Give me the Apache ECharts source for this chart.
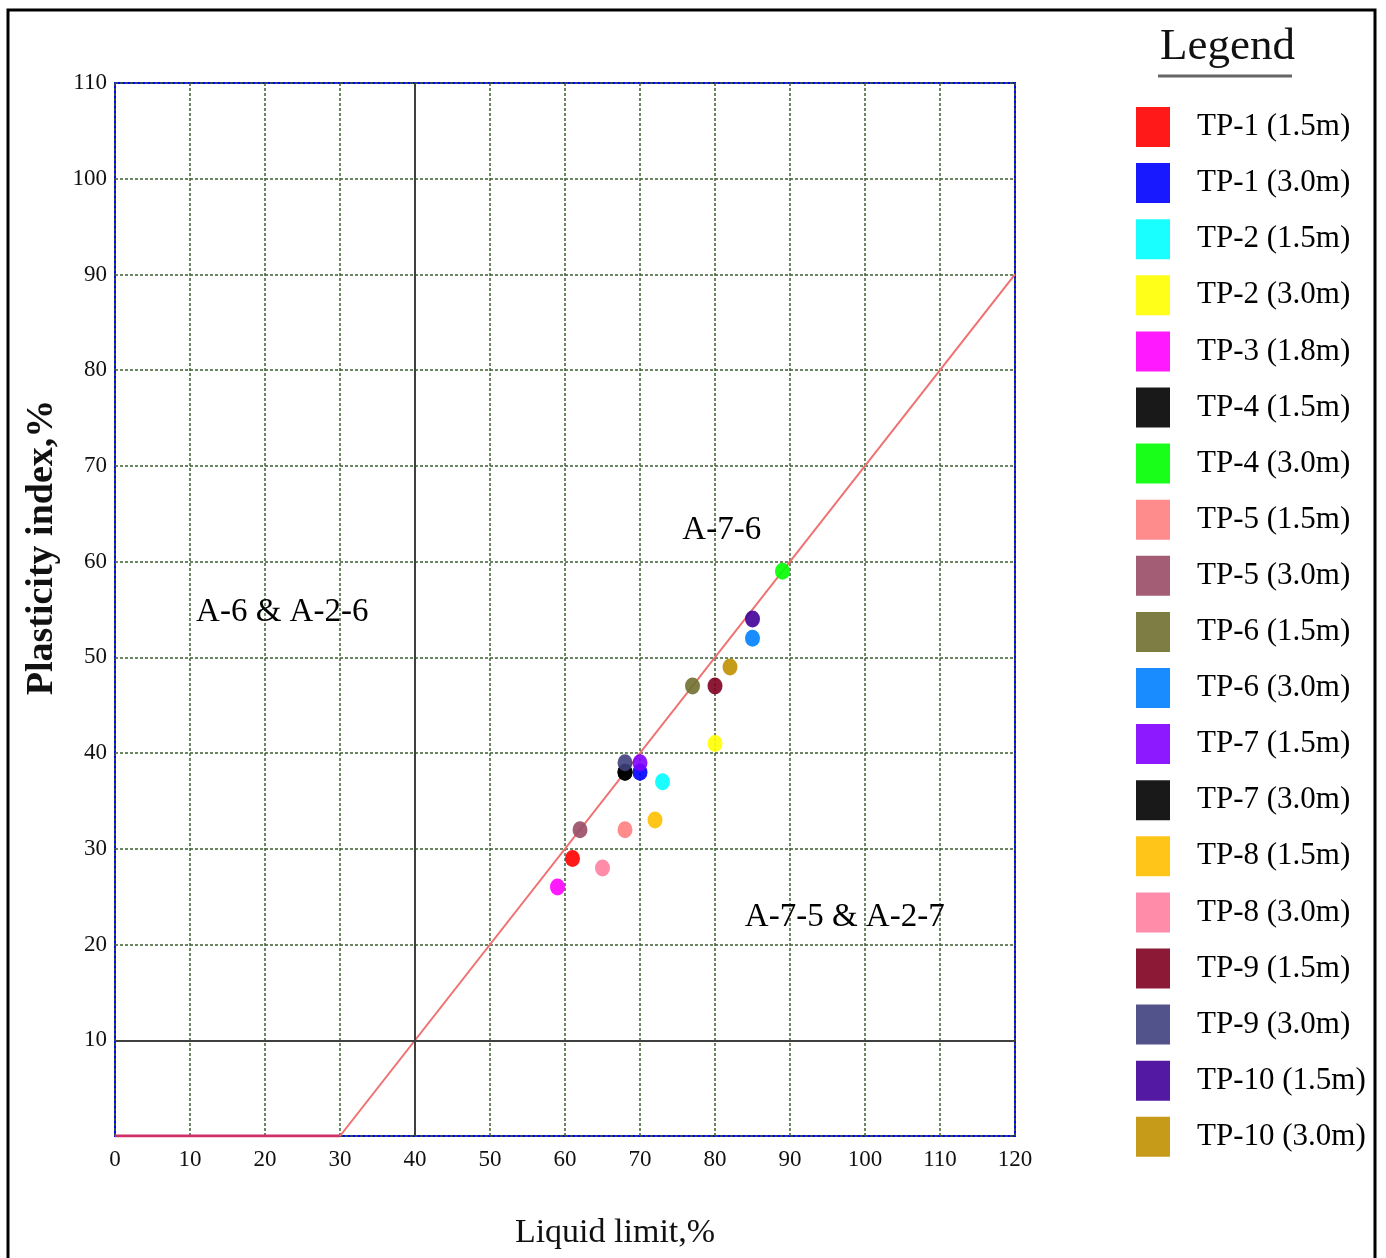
<!DOCTYPE html>
<html>
<head>
<meta charset="utf-8">
<script src="https://cdn.jsdelivr.net/npm/echarts@6/dist/echarts.min.js"></script>
<style>
html,body{margin:0;padding:0;background:#fff;}
#chart{width:1386px;height:1258px;}
</style>
</head>
<body>
<div id="chart"></div>
<script>
// ---- data ----
const sampleNames = ['TP-1 (1.5m)','TP-1 (3.0m)','TP-2 (1.5m)','TP-2 (3.0m)','TP-3 (1.8m)','TP-4 (1.5m)','TP-4 (3.0m)','TP-5 (1.5m)','TP-5 (3.0m)','TP-6 (1.5m)','TP-6 (3.0m)','TP-7 (1.5m)','TP-7 (3.0m)','TP-8 (1.5m)','TP-8 (3.0m)','TP-9 (1.5m)','TP-9 (3.0m)','TP-10 (1.5m)','TP-10 (3.0m)'];
const liquidLimit    = [61, 70, 73, 80, 59, 68, 89, 68, 62, 77, 85, 70, 68, 72, 65, 80, 68, 85, 82];
const plasticityIdx  = [29, 38, 37, 41, 26, 38, 59, 32, 32, 47, 52, 39, 38, 33, 28, 47, 39, 54, 49];
const sampleColors   = ['#ff0000','#0000ff','#00ffff','#ffff00','#ff00ff','#000000','#00ff00','#ff8080','#994d66','#707030','#0080ff','#8000ff','#000000','#ffbf00','#ff80a0','#800020','#404080','#400099','#bf9000'];
const xTicks = [0,10,20,30,40,50,60,70,80,90,100,110,120];
const yTicks = [0,10,20,30,40,50,60,70,80,90,100,110];
// A-line boundaries (PI = LL - 30) and group boundaries
const aLineFlat  = [[0,0],[30,0]];
const aLine      = [[30,0],[120,90]];
const boundaryLL = 40;
const boundaryPI = 10;
// zone labels (text, LL, PI)
const zoneNames = ['A-6 & A-2-6','A-7-6','A-7-5 & A-2-7'];
const zoneLL = [22.3, 80.9, 97.3];
const zonePI = [54.7, 63.3, 22.8];

const serif = '"Liberation Serif", "DejaVu Serif", serif';
const series = [];
series.push({
  type:'line', data:aLineFlat, symbol:'none', silent:true, z:3,
  lineStyle:{color:'#d0306a', width:3}
});
series.push({
  type:'line', data:aLine, symbol:'none', silent:true, z:3,
  lineStyle:{color:'#f07070', width:2},
  markLine:{
    silent:true, symbol:'none', animation:false,
    label:{show:false},
    lineStyle:{color:'#404040', width:2, type:'solid'},
    data:[{xAxis:boundaryLL},{yAxis:boundaryPI}]
  }
});
series.push({
  type:'scatter', silent:true, symbolSize:1, z:4,
  itemStyle:{color:'rgba(0,0,0,0)', opacity:1},
  data: zoneNames.map((n,i)=>({value:[zoneLL[i], zonePI[i]], name:n})),
  label:{show:true, position:'inside', formatter:p=>p.name, color:'#000', opacity:1, textBorderWidth:0, fontFamily:serif, fontSize:33}
});
sampleNames.forEach((n,i)=>{
  series.push({
    type:'scatter', name:n, data:[[liquidLimit[i], plasticityIdx[i]]],
    symbol:'circle', symbolSize:[15,17], z:5,
    itemStyle:{color:sampleColors[i], opacity:0.9}
  });
});

const chart = echarts.init(document.getElementById('chart'));
chart.setOption({
  animation:false,
  backgroundColor:'#fff',
  title:{
    text:'Legend', left:1155, top:20,
    textStyle:{fontFamily:serif, fontSize:45, fontWeight:'normal', color:'#111'}
  },
  legend:{
    data:sampleNames, orient:'vertical', left:1131, top:102,
    icon:'rect', itemWidth:34, itemHeight:40, itemGap:16.1,
    textStyle:{fontFamily:serif, fontSize:31, color:'#000', padding:[0,0,0,22]},
    selectedMode:false
  },
  grid:{left:115, top:83, width:900, height:1053, show:true, borderColor:'#0000ff', borderWidth:2, backgroundColor:'transparent'},
  xAxis:{
    type:'value', min:0, max:120, interval:10,
    name:'Liquid limit,%', nameLocation:'middle', nameGap:80,
    nameTextStyle:{fontFamily:serif, fontSize:34, color:'#111', padding:[0,0,0,100]},
    axisLine:{show:false}, axisTick:{show:false},
    axisLabel:{fontFamily:serif, fontSize:23, color:'#111', margin:12,
      formatter:v=> xTicks.includes(v) ? String(v) : ''},
    splitLine:{show:true, lineStyle:{color:'#3d5f32', width:1.5, type:[3,2]}}
  },
  yAxis:{
    type:'value', min:0, max:110, interval:10,
    name:'Plasticity index,%', nameLocation:'middle', nameGap:54,
    nameTextStyle:{fontFamily:serif, fontSize:38, color:'#111', fontWeight:'bold', padding:[0,0,0,124]},
    axisLine:{show:false}, axisTick:{show:false},
    axisLabel:{fontFamily:serif, fontSize:23, color:'#111', margin:8,
      formatter:v=> (v===0 || !yTicks.includes(v)) ? '' : String(v)},
    splitLine:{show:true, lineStyle:{color:'#3d5f32', width:1.5, type:[3,2]}}
  },
  graphic:[
    {type:'rect', shape:{x:8, y:10, width:1367, height:1260}, style:{fill:'none', stroke:'#000', lineWidth:3}, silent:true, z:100},
    {type:'line', shape:{x1:1158, y1:76, x2:1292, y2:76}, style:{stroke:'#666', lineWidth:3}, silent:true}
  ],
  series:series
});
</script>
</body>
</html>
